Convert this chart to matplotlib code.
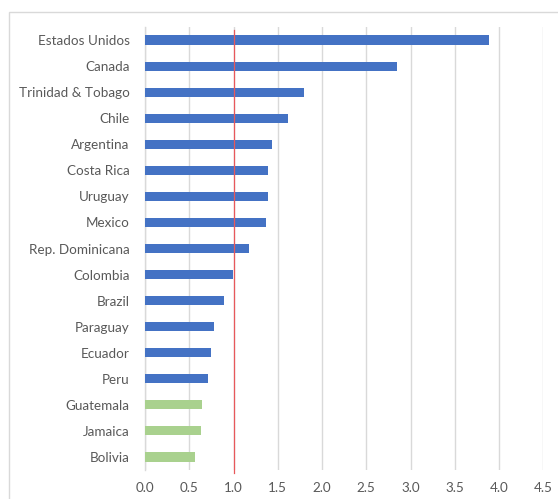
import matplotlib
matplotlib.use("Agg")
import matplotlib.pyplot as plt
from matplotlib.patches import Rectangle

countries = ["Estados Unidos", "Canada", "Trinidad & Tobago", "Chile", "Argentina",
             "Costa Rica", "Uruguay", "Mexico", "Rep. Dominicana", "Colombia",
             "Brazil", "Paraguay", "Ecuador", "Peru", "Guatemala", "Jamaica", "Bolivia"]
values = [3.89, 2.85, 1.80, 1.62, 1.43, 1.39, 1.39, 1.37, 1.175, 0.995,
          0.89, 0.78, 0.75, 0.71, 0.64, 0.63, 0.56]
groups = ["a"] * 14 + ["b"] * 3
group_colors = {"a": "#4472C4", "b": "#A9D18E"}
ref_value = 1.0
xticks = [0.0, 0.5, 1.0, 1.5, 2.0, 2.5, 3.0, 3.5, 4.0, 4.5]

plt.rcParams['font.family'] = ['Lato', 'DejaVu Sans']

W, H = 558, 499
fig = plt.figure(figsize=(W / 100, H / 100), dpi=100)
ax = fig.add_axes([145 / W, 1 - 470 / H, (543.3 - 145) / W, (470 - 27) / H])

n = len(countries)
ypos = list(range(n))
ax.barh(ypos, values, height=0.35, color=[group_colors[g] for g in groups], zorder=3)
ax.set_ylim(n - 0.5, -0.5)
ax.set_xlim(0, 4.5)
ax.set_yticks(ypos)
ax.set_yticklabels(countries)
ax.set_xticks(xticks)
ax.set_xticklabels([f"{t:.1f}" for t in xticks])
ax.grid(axis='x', color='#D9D9D9', lw=1.0, zorder=0)
ax.tick_params(axis='both', length=0, labelsize=9.7, colors='#595959')
ax.tick_params(axis='y', pad=11)
ax.tick_params(axis='x', pad=9)
for s in ['top', 'right', 'bottom']:
    ax.spines[s].set_visible(False)
ax.spines['left'].set_color('#D9D9D9')
ax.spines['left'].set_linewidth(1.0)
ax.axvline(ref_value, ymin=-0.007, ymax=0.993, color='#E8585B', lw=0.9, zorder=4, clip_on=False)

fig.patches.append(Rectangle((9 / W, -0.1), 1.2, 1 - 12 / H + 0.1, transform=fig.transFigure,
                             fill=False, edgecolor='#D9D9D9', lw=1.0))

fig.savefig("out.png", dpi=100)
